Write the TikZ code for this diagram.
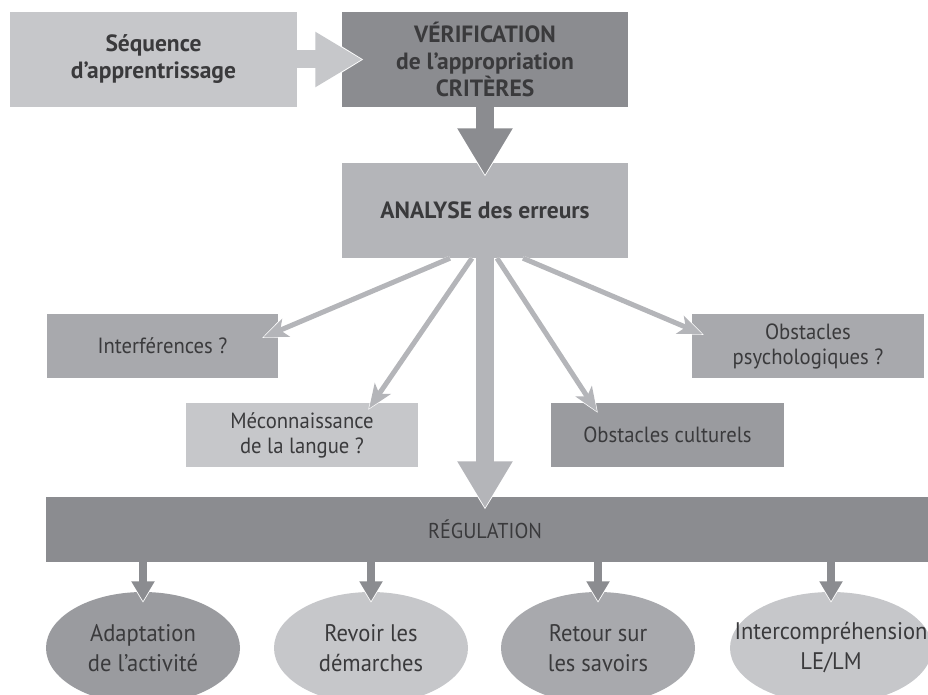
\documentclass[tikz,border=0pt]{standalone}
\usepackage{fontspec}
\setmainfont{PT Sans}
\newfontfamily\narrowfont[FakeStretch=0.94]{PT Sans}
\usepackage{tikz}
\usetikzlibrary{calc,shapes,positioning}
\usetikzlibrary{arrows.meta}

\definecolor{gLight}{HTML}{C6C7CA}
\definecolor{gMid}{HTML}{B4B5B9}
\definecolor{gTone}{HTML}{A8A9AD}
\definecolor{gDeep}{HTML}{9A9B9F}
\definecolor{gDark}{HTML}{8B8C90}
\definecolor{gText}{HTML}{3A3A3C}

\begin{document}
\begin{tikzpicture}
      \begin{scope}[x=1pt,y=-1pt]
        \tikzstyle{bnode} = [rectangle, inner sep=0pt, align=center, text=gText, font=\fontsize{23.5}{27}\selectfont\bfseries, minimum width=286pt, minimum height=95pt]
        \tikzstyle{snode} = [rectangle, inner sep=0pt, align=center, text=gText, font=\narrowfont\fontsize{22}{25}\selectfont, minimum width=232pt, minimum height=64pt]
        \tikzstyle{enode} = [ellipse, inner xsep=-50pt, inner ysep=0pt, align=center, text=gText, font=\narrowfont\fontsize{24}{30}\selectfont, minimum width=194pt, minimum height=112pt]
        \tikzstyle{barrow} = [line width=18pt, -{Triangle[width=52pt,length=47pt]}, shorten >=1.5pt, preaction={draw=white, line width=18pt, shorten >=0pt, -{Triangle[width=57pt,length=50pt]}}]
        \tikzstyle{tarrow} = [line width=5pt, draw=gMid, -{Stealth[width=19pt,length=24pt,inset=6pt]}, shorten >=1.5pt, preaction={draw=white, line width=5pt, shorten >=0pt, -{Stealth[width=23pt,length=28pt,inset=7pt]}}]
        \tikzstyle{sarrow} = [line width=8pt, draw=gDark, -{Triangle[width=22pt,length=20pt]}, shorten >=1.5pt, preaction={draw=white, line width=8pt, shorten >=0pt, -{Triangle[width=26pt,length=23pt]}}]

        \useasboundingbox (0,0) rectangle (928,695);
        \clip (0,0) rectangle (928,695);

        \node[bnode, fill=gLight, minimum width=287pt] (seq) at (153.5,59.5) {Séquence\\d’apprentrissage};
        \node[bnode, fill=gDark] (verif) at (485,59.5) {VÉRIFICATION\\de l’appropriation\\CRITÈRES};
        \node[bnode, fill=gMid] (analyse) at (485,210.5) {ANALYSE des erreurs};

        \node[snode, fill=gTone, minimum width=231pt] (interf) at (162.5,346) {Interférences ?};
        \node[snode, fill=gLight] (mecon) at (302,435) {Méconnaissance\\de la langue ?};
        \node[snode, fill=gDeep, minimum width=233pt] (cultur) at (667.5,435) {Obstacles culturels};
        \node[snode, fill=gTone] (psycho) at (808,346) {Obstacles\\psychologiques ?};

        \node[rectangle, fill=gDark, minimum width=894pt, minimum height=65pt, anchor=west] (regul) at (46,529.5) {};
        \node[text=gText, font=\narrowfont\fontsize{21.5}{26}\selectfont] (regtxt) at (485,529.5) {RÉGULATION};

        \node[enode, fill=gDeep] (e1) at (143,648) {Adaptation\\de l’activité};
        \node[enode, fill=gLight] (e2) at (371,648) {Revoir les\\démarches};
        \node[enode, fill=gTone] (e3) at (598,648) {Retour sur\\les savoirs};
        \node[enode, fill=gLight, minimum width=202pt] (e4) at (831,648) {Intercompréhension\\LE/LM};

        \path
        ([xshift=-35pt]analyse.south) edge[tarrow] ([xshift=-16pt,yshift=-24pt]interf.north east)
        ([xshift=-13pt]analyse.south) edge[tarrow] ([xshift=-50pt,yshift=-7pt]mecon.north east)
        ([xshift=12pt]analyse.south) edge[tarrow] ([xshift=47pt,yshift=-10pt]cultur.north west)
        ([xshift=38pt]analyse.south) edge[tarrow] ([xshift=12pt,yshift=-21pt]psycho.north west)
        ;
        \path
        (seq.east) edge[barrow, draw=gLight] ([xshift=22pt]verif.west)
        (verif.south) edge[barrow, draw=gDark] ([yshift=-14pt]analyse.north)
        (analyse.south) edge[barrow, draw=gMid] ([yshift=-13pt]analyse.south |- regul.north)
        ;
        \path
        (regul.south -| e1) edge[sarrow] ([yshift=-11pt]e1.north)
        (regul.south -| e2) edge[sarrow] ([yshift=-11pt]e2.north)
        (regul.south -| e3) edge[sarrow] ([yshift=-11pt]e3.north)
        (regul.south -| e4) edge[sarrow] ([yshift=-11pt]e4.north)
        ;
      \end{scope}
    \end{tikzpicture}
\end{document}
